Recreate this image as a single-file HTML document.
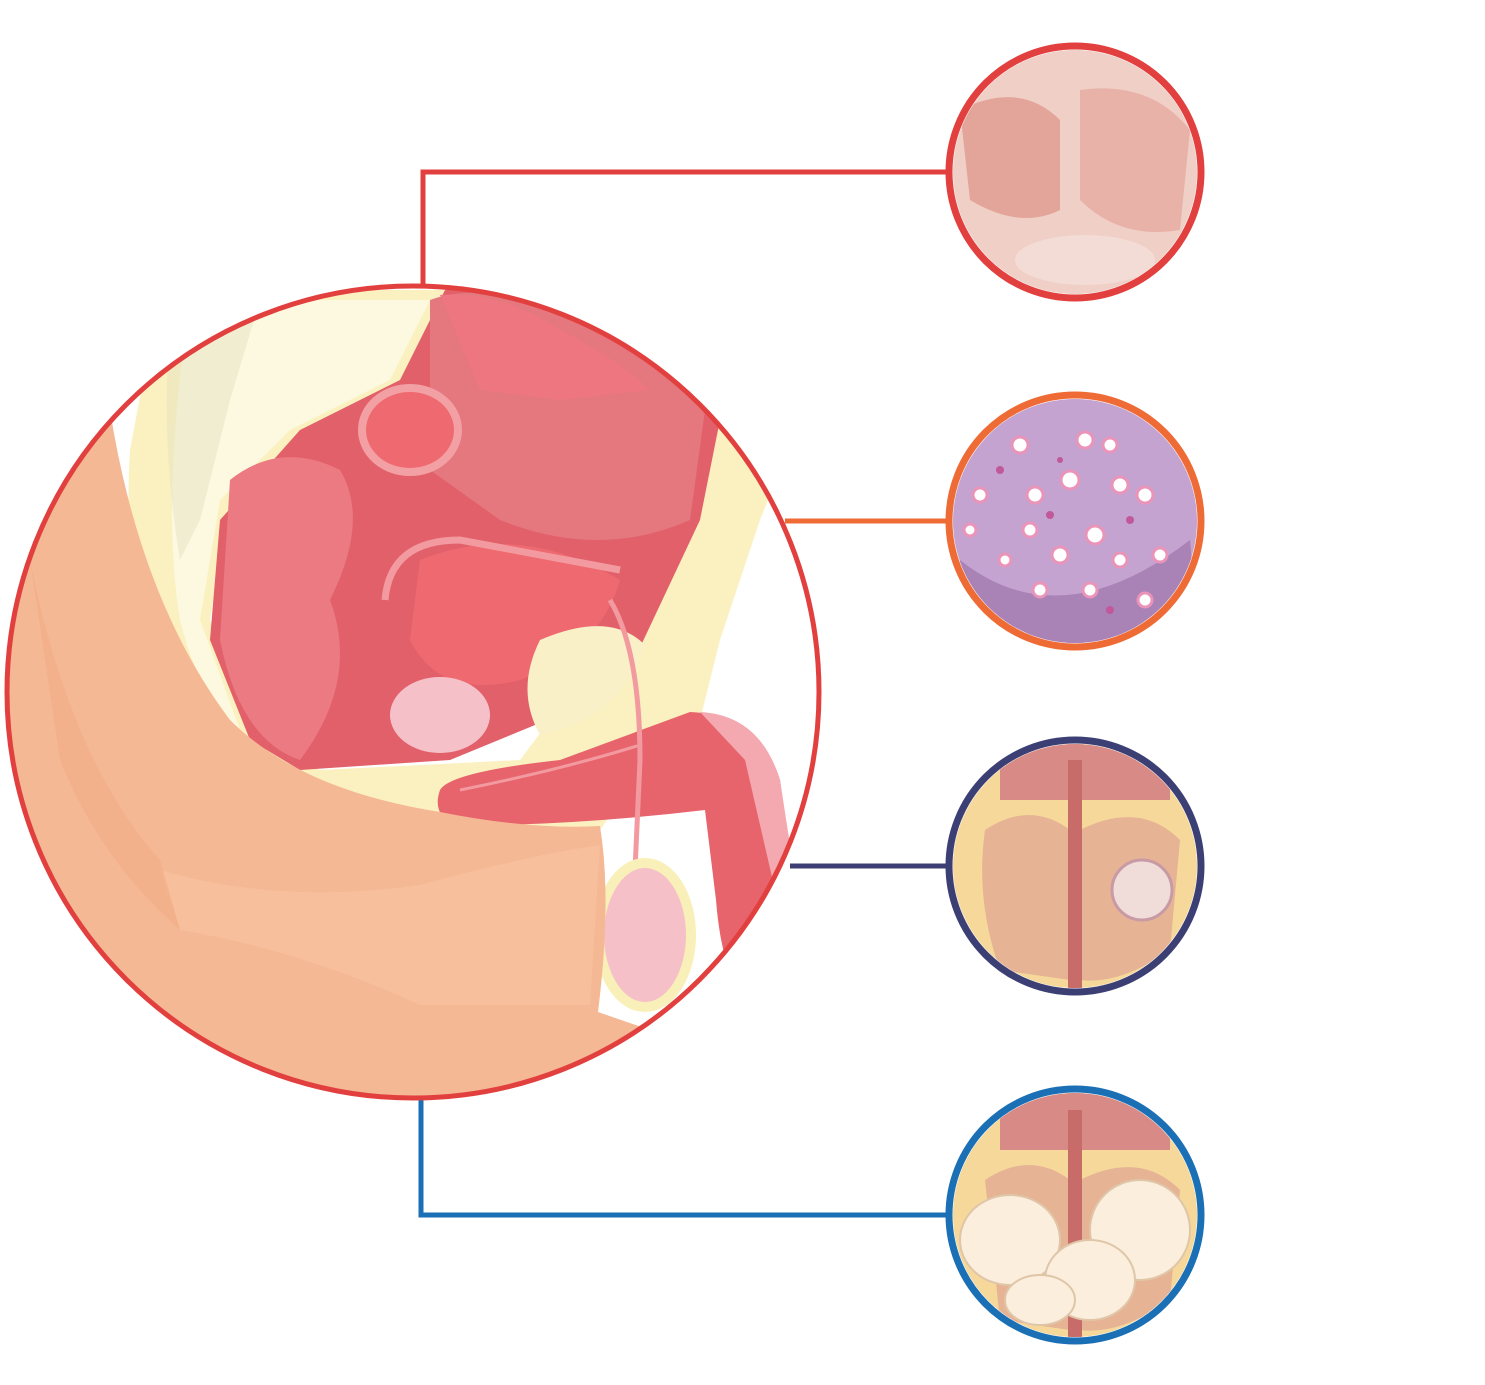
<!DOCTYPE html>
<html><head><meta charset="utf-8"><style>html,body{margin:0;padding:0;background:#fff}svg{display:block}</style></head>
<body>
<svg width="1485" height="1385" viewBox="0 0 1485 1385" xmlns="http://www.w3.org/2000/svg">
<defs>
<clipPath id="big"><circle cx="413" cy="692" r="406"/></clipPath>
<clipPath id="c1"><circle cx="1075" cy="172" r="122"/></clipPath>
<clipPath id="c2"><circle cx="1075" cy="521" r="122"/></clipPath>
<clipPath id="c3"><circle cx="1075" cy="866" r="122"/></clipPath>
<clipPath id="c4"><circle cx="1075" cy="1215" r="122"/></clipPath>
</defs>
<polyline points="423,286 423,172 948,172" fill="none" stroke="#e2403f" stroke-width="5"/>
<line x1="785" y1="521" x2="948" y2="521" stroke="#ef6b35" stroke-width="5"/>
<line x1="790" y1="866" x2="948" y2="866" stroke="#3c3f73" stroke-width="5"/>
<polyline points="421,1100 421,1215 948,1215" fill="none" stroke="#1a6fb5" stroke-width="5"/>

<g clip-path="url(#big)">
<rect x="0" y="280" width="830" height="830" fill="#fff"/>
<!-- yellow back layers -->
<path d="M160,290 L450,290 L400,380 L300,440 L230,500 L210,620 L250,730 L320,770 L520,760 L700,520 L720,420 L780,470 L760,520 L720,640 L700,720 L650,760 L600,830 L430,840 Q260,800 180,700 Q120,600 130,450 Z" fill="#fbf1c0"/>
<path d="M190,300 L430,300 L390,380 L290,430 L220,500 L200,620 L240,730 Q200,700 180,620 Q160,500 190,300Z" fill="#fdf8e0"/>
<path d="M170,330 L260,300 L230,400 L200,520 L180,560 Q160,440 170,330Z" fill="#e6e2c0" opacity="0.5"/>
<!-- organs -->
<path d="M445,290 L400,380 L300,430 L220,520 L210,640 L250,740 L300,770 L450,760 L620,690 L700,520 L720,420 L640,340 L540,290Z" fill="#e2606a"/>
<path d="M430,300 Q470,285 540,300 Q620,330 705,410 L690,520 Q600,560 500,520 L430,470 Z" fill="#e4787e"/>
<path d="M440,295 Q500,290 560,330 Q620,360 650,390 L560,400 L480,390Z" fill="#ee7680"/>
<path d="M230,480 Q280,440 340,470 Q370,520 330,600 Q360,680 300,760 Q240,740 220,640 Z" fill="#ec7a82"/>
<path d="M420,560 Q520,520 620,580 Q600,650 520,680 Q440,700 410,640Z" fill="#ee6a70"/>
<path d="M385,600 Q390,540 460,540 L620,570" fill="none" stroke="#f29aa0" stroke-width="7"/>
<ellipse cx="410" cy="430" rx="48" ry="42" fill="#ee6a70" stroke="#f3a0a4" stroke-width="8"/>
<path d="M540,640 Q610,610 645,645 Q620,720 540,735 Q515,690 540,640Z" fill="#faf0c8"/>
<ellipse cx="440" cy="715" rx="50" ry="38" fill="#f6c0c8"/>
<!-- penis -->
<path d="M440,790 Q450,772 560,760 L690,712 Q760,715 780,780 L797,900 L785,970 Q770,995 745,992 Q722,975 716,900 L705,810 Q580,825 452,826 Q432,812 440,790Z" fill="#e8646c"/>
<path d="M700,712 Q760,715 780,780 L797,890 L775,890 L745,760Z" fill="#f4a8b0"/>
<path d="M460,790 Q560,770 640,745" fill="none" stroke="#f29aa0" stroke-width="3"/>
<path d="M610,600 Q640,650 640,760 L635,870" fill="none" stroke="#f29aa0" stroke-width="5"/>
<ellipse cx="645" cy="935" rx="46" ry="72" fill="#f6c0c8" stroke="#f8f0b8" stroke-width="10"/>
<!-- body -->
<path d="M0,380 L110,410 Q140,600 230,720 Q300,790 440,812 Q530,830 600,826 Q612,900 598,1012 L650,1030 L620,1120 L0,1120Z" fill="#f5b894"/>
<path d="M160,870 Q280,905 420,885 Q530,855 600,845 L590,1005 L420,1005 Q300,950 180,930Z" fill="#f7bf9c"/>
<path d="M30,560 Q70,760 160,860 L180,930 Q100,860 60,760Z" fill="#f2ae88" opacity="0.7"/>
</g>
<circle cx="413" cy="692" r="406" fill="none" stroke="#e2403f" stroke-width="5"/>

<g clip-path="url(#c1)"><rect x="940" y="40" width="270" height="270" fill="#efcfc6"/>
<path d="M960,110 Q1020,80 1060,120 L1060,210 Q1020,230 970,200Z" fill="#e3a59a"/>
<path d="M1080,90 Q1150,80 1190,130 L1180,230 Q1120,240 1080,200Z" fill="#e8b2a8"/>
<ellipse cx="1085" cy="260" rx="70" ry="25" fill="#f4dcd6"/></g>
<circle cx="1075" cy="172" r="126" fill="none" stroke="#e2403f" stroke-width="7"/>

<g clip-path="url(#c2)"><rect x="940" y="390" width="270" height="270" fill="#c4a3d0"/>
<path d="M960,560 Q1060,640 1190,540 L1200,660 L950,660Z" fill="#a982b6"/>
<g fill="#fff" stroke="#e994b8" stroke-width="3">
<circle cx="1020" cy="445" r="8"/><circle cx="1085" cy="440" r="8"/><circle cx="1110" cy="445" r="7"/><circle cx="1070" cy="480" r="9"/><circle cx="1120" cy="485" r="8"/><circle cx="1035" cy="495" r="8"/><circle cx="980" cy="495" r="7"/><circle cx="1145" cy="495" r="8"/><circle cx="1030" cy="530" r="7"/><circle cx="1095" cy="535" r="9"/><circle cx="1160" cy="555" r="7"/><circle cx="1060" cy="555" r="8"/><circle cx="1005" cy="560" r="6"/><circle cx="1120" cy="560" r="7"/><circle cx="1040" cy="590" r="7"/><circle cx="1090" cy="590" r="7"/><circle cx="1145" cy="600" r="7"/><circle cx="970" cy="530" r="6"/></g>
<g fill="#c0589a"><circle cx="1000" cy="470" r="4"/><circle cx="1050" cy="515" r="4"/><circle cx="1130" cy="520" r="4"/><circle cx="1060" cy="460" r="3"/><circle cx="1110" cy="610" r="4"/></g></g>
<circle cx="1075" cy="521" r="126" fill="none" stroke="#ef6b35" stroke-width="7"/>

<g clip-path="url(#c3)"><rect x="940" y="735" width="270" height="270" fill="#f5d89a"/>
<path d="M985,830 Q1030,800 1070,830 L1070,980 L1000,970 Q975,900 985,830Z" fill="#e6b394"/>
<path d="M1080,830 Q1140,800 1180,840 L1170,950 Q1120,985 1080,980Z" fill="#e6b394"/>
<rect x="1000" y="740" width="170" height="60" fill="#d88a86"/>
<rect x="1068" y="760" width="14" height="240" fill="#c86c6a"/>
<circle cx="1142" cy="890" r="30" fill="#f0dcd8" stroke="#c89aa6" stroke-width="3"/></g>
<circle cx="1075" cy="866" r="126" fill="none" stroke="#3c3f73" stroke-width="7"/>

<g clip-path="url(#c4)"><rect x="940" y="1085" width="270" height="270" fill="#f5d89a"/>
<rect x="1000" y="1090" width="170" height="60" fill="#d88a86"/>
<path d="M985,1180 Q1030,1150 1070,1180 L1070,1330 L1000,1320Z" fill="#e6b394"/>
<path d="M1080,1180 Q1140,1150 1180,1190 L1170,1300 Q1120,1335 1080,1330Z" fill="#e6b394"/>
<rect x="1068" y="1110" width="14" height="240" fill="#c86c6a"/>
<g fill="#fbeedd" stroke="#e0c6a8" stroke-width="2">
<ellipse cx="1010" cy="1240" rx="50" ry="45"/><ellipse cx="1140" cy="1230" rx="50" ry="50"/><ellipse cx="1090" cy="1280" rx="45" ry="40"/><ellipse cx="1040" cy="1300" rx="35" ry="25"/></g></g>
<circle cx="1075" cy="1215" r="126" fill="none" stroke="#1a6fb5" stroke-width="7"/>
</svg>
</body></html>
